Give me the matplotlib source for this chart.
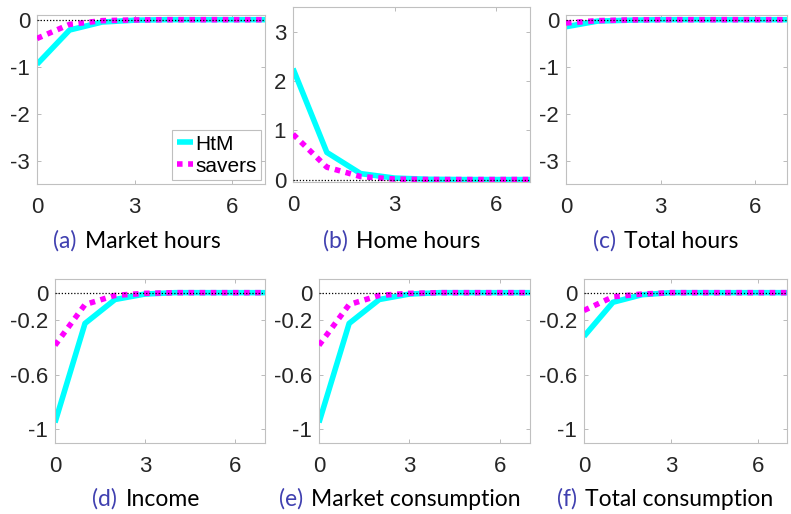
import numpy as np
import matplotlib
matplotlib.use("Agg")
import matplotlib.pyplot as plt
from matplotlib.offsetbox import TextArea, HPacker, AnchoredOffsetbox

periods = [0, 1, 2, 3, 4, 5, 6, 7, 8]

market_hours_htm = [-0.95, -0.22, -0.05, -0.01, 0, 0, 0, 0, 0]
market_hours_sav = [-0.40, -0.10, -0.02, -0.005, 0, 0, 0, 0, 0]
home_hours_htm = [2.25, 0.55, 0.12, 0.03, 0.005, 0, 0, 0, 0]
home_hours_sav = [0.92, 0.25, 0.06, 0.01, 0, 0, 0, 0, 0]
total_hours_htm = [-0.15, -0.03, -0.01, 0, 0, 0, 0, 0, 0]
total_hours_sav = [-0.07, -0.02, -0.005, 0, 0, 0, 0, 0, 0]
income_htm = [-0.95, -0.225, -0.05, -0.01, 0, 0, 0, 0, 0]
income_sav = [-0.385, -0.087, -0.02, -0.005, 0, 0, 0, 0, 0]
mkt_cons_htm = [-0.95, -0.225, -0.05, -0.01, 0, 0, 0, 0, 0]
mkt_cons_sav = [-0.385, -0.087, -0.02, -0.005, 0, 0, 0, 0, 0]
tot_cons_htm = [-0.32, -0.07, -0.015, 0, 0, 0, 0, 0, 0]
tot_cons_sav = [-0.13, -0.03, -0.01, 0, 0, 0, 0, 0, 0]

letters = ["(a)", "(b)", "(c)", "(d)", "(e)", "(f)"]
titles = ["Market hours", "Home hours", "Total hours",
          "Income", "Market consumption", "Total consumption"]

W, H = 791, 514
fig = plt.figure(figsize=(W / 100, H / 100), dpi=100)

# pixel boxes: left, top, right, bottom
boxes = [(37, 15, 265, 184), (293, 7, 530, 182), (566, 15, 787, 184),
         (55, 279, 265, 443), (319, 279, 530, 443), (584, 279, 787, 443)]
series = [(market_hours_htm, market_hours_sav), (home_hours_htm, home_hours_sav),
          (total_hours_htm, total_hours_sav), (income_htm, income_sav),
          (mkt_cons_htm, mkt_cons_sav), (tot_cons_htm, tot_cons_sav)]
ylims = [(-3.5, 0.1), (-0.05, 3.5), (-3.5, 0.1), (-1.1, 0.1), (-1.1, 0.1), (-1.1, 0.1)]
yticks = [[-3, -2, -1, 0], [0, 1, 2, 3], [-3, -2, -1, 0],
          [-1, -0.6, -0.2, 0], [-1, -0.6, -0.2, 0], [-1, -0.6, -0.2, 0]]
ytlabels = [["-3", "-2", "-1", "0"], ["0", "1", "2", "3"], ["-3", "-2", "-1", "0"],
            ["-1", "-0.6", "-0.2", "0"], ["-1", "-0.6", "-0.2", "0"], ["-1", "-0.6", "-0.2", "0"]]
# caption centres (pixels)
cap_x = [137, 402, 666, 146, 400, 665]
cap_y = [241, 241, 241, 499, 499, 499]

tickfont = "Liberation Sans"
capfont = "Lato"

for i, (l, t, r, b) in enumerate(boxes):
    ax = fig.add_axes([l / W, 1 - b / H, (r - l) / W, (b - t) / H])
    htm, sav = series[i]
    ax.plot(periods, htm, color="#00ffff", lw=4, solid_capstyle="butt", label="HtM", zorder=2)
    ax.plot(periods, sav, color="#ff00ff", lw=4, ls=(0, (1, 1)), dash_capstyle="butt",
            label="savers", zorder=3)
    ax.axhline(0, color="black", lw=0.9, ls=(0, (1, 1.5)), zorder=4)
    ax.set_xlim(0, 7)
    ax.set_ylim(*ylims[i])
    ax.set_xticks([0, 3, 6])
    ax.set_yticks(yticks[i])
    ax.set_yticklabels(ytlabels[i])
    ax.tick_params(direction="in", length=3, width=0.6, color="#b0b0b0",
                   top=True, right=True, labelsize=16, labelcolor="#262626")
    ax.tick_params(axis="x", pad=9)
    ax.tick_params(axis="y", pad=5)
    for lab in ax.get_xticklabels() + ax.get_yticklabels():
        lab.set_fontfamily(tickfont)
    for sp in ax.spines.values():
        sp.set_color("#c0c0c0")
        sp.set_linewidth(0.8)
    if i == 0:
        leg = ax.legend(loc="lower right", handlelength=0.8, handletextpad=0.1,
                        borderpad=0.2, borderaxespad=0.2, labelspacing=0.15,
                        fancybox=False, prop={"family": tickfont, "size": 15})
        leg.get_frame().set_edgecolor("#b0b0b0")
        leg.get_frame().set_linewidth(0.8)
    box = HPacker(children=[
        TextArea(letters[i], textprops=dict(color="#4040b0", fontsize=16.5, family=capfont)),
        TextArea(titles[i], textprops=dict(color="black", fontsize=16.5, family=capfont))],
        align="baseline", pad=0, sep=6)
    ab = AnchoredOffsetbox(loc="center", child=box, frameon=False,
                           bbox_to_anchor=(cap_x[i] / W, 1 - cap_y[i] / H),
                           bbox_transform=fig.transFigure,
                           borderpad=0, pad=0)
    fig.add_artist(ab)

fig.savefig("out.png", dpi=100)
